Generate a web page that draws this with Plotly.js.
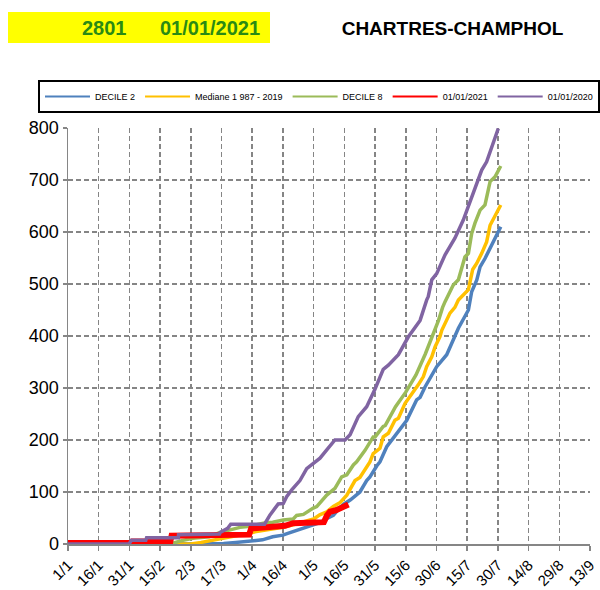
<!DOCTYPE html>
<html>
<head>
<meta charset="utf-8">
<script src="https://cdn.plot.ly/plotly-3.0.1.min.js"></script>
<style>html,body{margin:0;padding:0;background:#fff;}#chart{width:600px;height:590px;}</style>
</head>
<body>
<div id="chart"></div>
<script>
// Tick labels (day index from 1 January, every 15 days)
const tickDays = [0,15,30,45,60,75,90,105,120,135,150,165,180,195,210,225,240,255];
const tickLabels = ["1/1","16/1","31/1","15/2","2/3","17/3","1/4","16/4","1/5","16/5","31/5","15/6","30/6","15/7","30/7","14/8","29/8","13/9"];

// DECILE 2
const decile2Days = [0,70,76,82,90,95,100,105,107,111,115,119,123,126,129.6,132,134.5,138,142.6,145.9,147.5,150.8,152.4,155.7,158.9,160.6,165.5,170.3,172,174.4,179.3,180.1,185,186.6,190.7,195.6,197.2,199.7,201.3,203.7,206.2,209.4,211.4];
const decile2Vals = [0,0,1,3,6,8,14,17,20,25,30,35,41,48,55,66,76,85,100,122,129,150,158,187,203,213,238,277,282,302,335,341,364,379,415,450,485,508,533,549,569,594,610];

// Mediane 1987 - 2019
const medianDays = [0,60,65,74,84,92,95.4,102,105,110,115,120,123,126.4,129.6,133,136.2,140.2,142.6,147.5,149.1,152.4,154,156.5,159.7,161.4,164.6,169.5,171.1,173.6,175.2,177.7,179.3,181.7,182.6,186.6,189,190.7,193.1,195.6,197.7,199.7,202.1,204.5,206.2,208.6,211.4];
const medianVals = [0,0,3,9,17,24,26,30,32,37,43,48,56,62,72,80,94,122,128,158,174,184,206,213,238,242,270,296,306,322,341,360,379,399,411,444,455,469,479,489,528,540,559,581,613,630,652];

// DECILE 8
const decile8Days = [0,50,55,61,69,74,84,89,95.4,100,105.2,110,111.7,115,119.8,121.5,126.4,129.6,130.4,133.7,136.2,139.4,141,145.1,147.5,149.1,150,154,155,160,165,170,174.5,178.5,181,183,184.2,188.2,190.7,193.9,195.6,197.2,198.8,201.3,203.7,206.2,208.6,211.4];
const decile8Vals = [0,0,6,11,14,22,32,34,40,42,46,48,55,57,69,72,94,104,107,129,133,152,158,180,194,206,206,226,228,264,292,325,365,405,430,455,466,498,508,552,559,597,617,642,652,697,706,727];

// 01/01/2021
const y2021Days = [0,31,31.5,50,50.6,73,74,88.5,89.5,100,106,110,125,126.5,128,131,134,137];
const y2021Vals = [2,2,5,5,16,16,18,18,30,32,35,40,42,55,62,65,69,76];

// 01/01/2020
const y2020Days = [0,29.8,31,38,38.4,53.9,54,74,74.3,78,79.5,96,98.7,101,102.7,105.2,106.8,109.3,113.3,116.6,119.8,123.1,126.4,129.6,130.4,135.3,137.8,141.8,145.9,150,151.6,154,156.5,158.9,161.4,166.2,172,175.2,176,177.7,180.1,184.2,189,193.1,198,202.1,204.5,207.8,210.2];
const y2020Vals = [0,0,7,7,12,12,18,19,22,30,38,38,56,68,77,78,91,104,122,145,155,165,181,197,200,200,210,245,264,298,312,336,344,354,364,398,430,469,476,508,520,556,588,623,674,719,735,774,799];

const seriesNames = ["DECILE 2","Mediane 1 987 - 2019","DECILE 8","01/01/2021","01/01/2020"];
const seriesColors = ["#4F81BD","#FFC000","#9BBB59","#FF0000","#8064A2"];

const FONT = "Liberation Sans, Arial, sans-serif";

function tr(x, y, i, w) {
  return {x: x, y: y, name: seriesNames[i], legendgroup: "g" + i, showlegend: false,
          type: "scatter", mode: "lines",
          line: {color: seriesColors[i], width: w}, hoverinfo: "skip"};
}
// legend keys drawn with thin lines, as in the original chart
function key(i) {
  return {x: [null], y: [null], name: seriesNames[i], legendgroup: "g" + i, showlegend: true,
          type: "scatter", mode: "lines", line: {color: seriesColors[i], width: 2}, hoverinfo: "skip"};
}
const data = [
  tr(decile2Days, decile2Vals, 0, 3.5),
  tr(medianDays, medianVals, 1, 3.5),
  tr(decile8Days, decile8Vals, 2, 3.5),
  tr(y2021Days, y2021Vals, 3, 6),
  tr(y2020Days, y2020Vals, 4, 3.5),
  key(0), key(1), key(2), key(3), key(4)
];

// pixel -> paper helpers for decorations
const L = 68, R = 590, T = 128, B = 544;
const px = v => (v - L) / (R - L);
const py = v => (B - v) / (B - T);

const layout = {
  width: 600, height: 590,
  margin: {l: L, r: 600 - R, t: T, b: 590 - B, pad: 0},
  paper_bgcolor: "#ffffff", plot_bgcolor: "#ffffff",
  font: {family: FONT, color: "#000000"},
  title: {text: "<b>CHARTRES-CHAMPHOL</b>", font: {family: FONT, size: 19, color: "#000"},
          x: 452.5 / 600, xref: "container", xanchor: "center",
          y: 1 - 28 / 590, yref: "container", yanchor: "middle"},
  xaxis: {
    range: [0, 255], tickvals: tickDays, ticktext: tickLabels, tickangle: -45,
    tickfont: {family: FONT, size: 15, color: "#000"},
    showgrid: true, gridcolor: "#858585", gridwidth: 1.5, griddash: "5px,3px",
    showline: true, linecolor: "#868686", linewidth: 1.5,
    ticks: "outside", ticklen: 5, tickcolor: "#868686", tickwidth: 1.5,
    zeroline: false, fixedrange: true
  },
  yaxis: {
    range: [0, 800], dtick: 100, tick0: 0,
    tickfont: {family: FONT, size: 18, color: "#000"},
    showgrid: true, gridcolor: "#858585", gridwidth: 1.5, griddash: "5px,3px",
    showline: true, linecolor: "#868686", linewidth: 1.5,
    ticks: "outside", ticklen: 4, tickcolor: "#868686", tickwidth: 1.5,
    zeroline: false, fixedrange: true
  },
  showlegend: true,
  legend: {
    orientation: "h", x: px(43), xanchor: "left", y: py(80), yanchor: "top",
    bordercolor: "#000", borderwidth: 2, bgcolor: "#fff",
    font: {family: FONT, size: 9, color: "#000"},
    itemwidth: 45, traceorder: "normal"
  },
  shapes: [
    {type: "rect", xref: "paper", yref: "paper", x0: px(8), x1: px(270), y0: py(43), y1: py(12),
     fillcolor: "#FFFF00", line: {width: 0}, layer: "below"}
  ],
  annotations: [
    {text: "<b>2801</b>", xref: "paper", yref: "paper", x: px(104.5), y: py(28), xanchor: "center", yanchor: "middle",
     showarrow: false, font: {family: FONT, size: 20, color: "#2A8A14"}},
    {text: "<b>01/01/2021</b>", xref: "paper", yref: "paper", x: px(209.5), y: py(28), xanchor: "center", yanchor: "middle",
     showarrow: false, font: {family: FONT, size: 20, color: "#2A8A14"}}
  ]
};

Plotly.newPlot("chart", data, layout, {displayModeBar: false, staticPlot: true});
</script>
</body>
</html>
